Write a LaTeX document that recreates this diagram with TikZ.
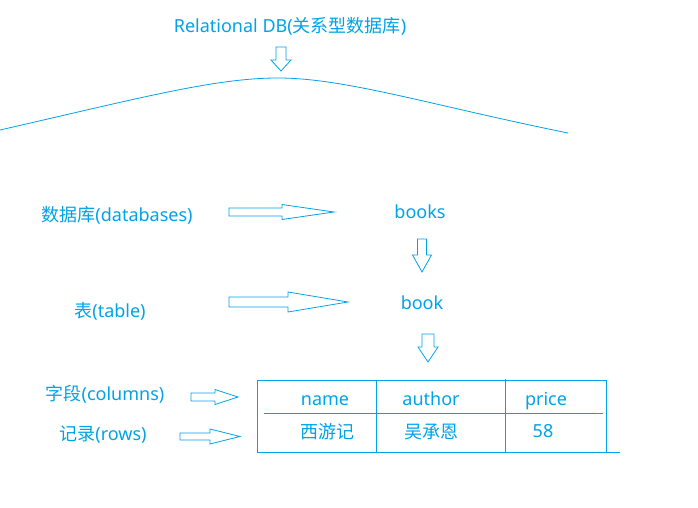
\documentclass[tikz,border=0pt]{standalone}
\usepackage{fontspec}
\setmainfont{Noto Sans}
\newfontfamily\cjk{Noto Sans CJK SC}
\definecolor{sky}{RGB}{0,162,232}
\begin{document}
\begin{tikzpicture}[x=1pt,y=-1pt,
  lbl/.style={text=sky,inner sep=0pt,text height=13pt,text depth=4pt,yshift=-2.5pt,font=\fontsize{18}{20}\selectfont},
  ln/.style={draw=sky,line width=0.8pt},
  blk/.style={draw=sky,line width=0.8pt,line join=miter}]
\useasboundingbox (0,0) rectangle (698,508);
% texts
\node[lbl] (title) at (290,26) {Relational DB({\cjk 关系型数据库})};
\node[lbl] (dbl) at (117,214) {{\cjk 数据库}(databases)};
\node[lbl] (books) at (420,211) {books};
\node[lbl] (tbl) at (110,310) {{\cjk 表}(table)};
\node[lbl] (book) at (422,302) {book};
\node[lbl] (cols) at (105,393) {{\cjk 字段}(columns)};
\node[lbl] (rows) at (103,433) {{\cjk 记录}(rows)};
\node[lbl] (h1) at (325,398) {name};
\node[lbl] (h2) at (431,398) {author};
\node[lbl] (h3) at (546,398) {price};
\node[lbl] (c1) at (327,431) {\cjk 西游记};
\node[lbl] (c2) at (431,431) {\cjk 吴承恩};
\node[lbl] (c3) at (543,430) {58};
% curve
\draw[ln] (0,130) .. controls (140,98) and (215,78) .. (278,78)
  .. controls (345,78) and (430,105) .. (568,133);
% down arrows
\draw[blk] (276,47) -- (286,47) -- (286,60) -- (291,60) -- (281,71) -- (271,60) -- (276,60) -- cycle;
\draw[blk] (417.5,239) -- (426.5,239) -- (426.5,255) -- (431.5,255) -- (422,272) -- (412.5,255) -- (417.5,255) -- cycle;
\draw[blk] (422,334) -- (434,334) -- (434,347) -- (438,347) -- (428,362) -- (418,347) -- (422,347) -- cycle;
% right arrows
\draw[blk] (229,208) -- (282,208) -- (282,204.5) -- (334,212) -- (282,219.5) -- (282,216) -- (229,216) -- cycle;
\draw[blk] (229,297) -- (288,297) -- (288,292) -- (348,302) -- (288,312) -- (288,307) -- (229,307) -- cycle;
\draw[blk] (191,393) -- (215,393) -- (215,389.5) -- (238,397) -- (215,404.5) -- (215,401) -- (191,401) -- cycle;
\draw[blk] (180,433) -- (210,433) -- (210,429) -- (240,436.5) -- (210,444) -- (210,440) -- (180,440) -- cycle;
% table
\coordinate (tl) at (257,380);
\coordinate (tr) at (606,380);
\draw[ln] (tl) -- (tr);
\draw[ln] (257,380) -- (257,452);
\draw[ln] (606,380) -- (606,452);
\draw[ln] (257,452) -- (620,452);
\draw[ln] (264,413) -- (603,413);
\draw[ln] (376,381) -- (376,452);
\draw[ln] (505,379) -- (505,452);
\end{tikzpicture}
\end{document}
